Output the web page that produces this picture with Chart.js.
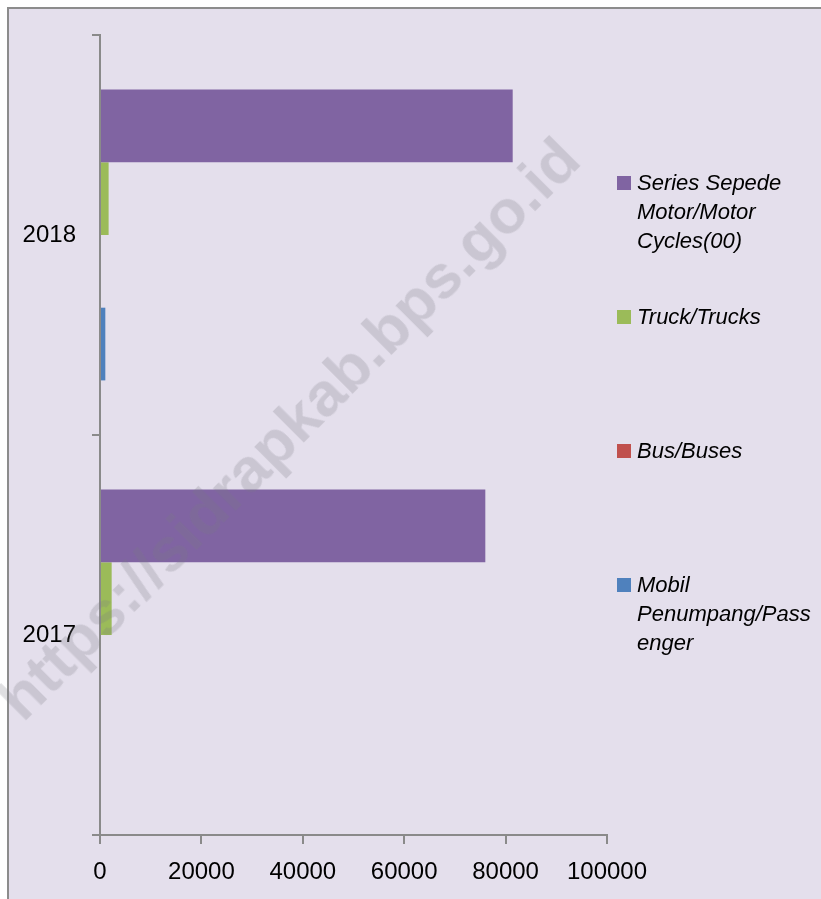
<!DOCTYPE html>
<html>
<head>
<meta charset="utf-8">
<script src="https://cdn.jsdelivr.net/npm/chart.js@4.4.1/dist/chart.umd.min.js"></script>
<style>
    html, body { margin: 0; padding: 0; background: #ffffff; overflow: hidden; }
    #frame {
        position: absolute; left: 7px; top: 7px; width: 840px; height: 920px;
        background: #E4DFEC; border: 2px solid #8C8C8C; box-sizing: border-box;
    }
    #wrap { position: absolute; left: 0; top: 0; width: 821px; height: 899px; }
    #legend {
        position: absolute; left: 0; top: 0;
        font-family: "Liberation Sans", Arial, sans-serif; font-style: italic;
        font-size: 22px; line-height: 29px; color: #000;
    }
    .item { position: absolute; left: 617px; width: 200px; }
    .box { position: absolute; left: 0; top: 8px; width: 14px; height: 14px; }
    .txt { position: absolute; left: 20px; width: 178px; overflow-wrap: anywhere; }
    #watermark {
        position: absolute; left: 288px; top: 428px;
        transform: translate(-50%, -50%) rotate(-45deg);
        font-family: "Liberation Sans", Arial, sans-serif; font-weight: bold;
        font-size: 62px; color: rgba(120, 120, 130, 0.24); white-space: nowrap;
        pointer-events: none;
    }
</style>
</head>
<body>
<div id="frame"></div>
<div id="wrap"><canvas id="canvasVehicles" width="821" height="899"></canvas></div>
<div id="legend"></div>
<div id="watermark">https://sidrapkab.bps.go.id</div>
<script>
"use strict";
// years, bottom to top
var years = ['2017', '2018'];
var seriesNames = ['Series Sepede Motor/Motor Cycles(00)', 'Truck/Trucks', 'Bus/Buses', 'Mobil Penumpang/Passenger'];
var motorCycles = [76000, 81400];
var trucks = [2300, 1700];
var buses = [0, 0];
var passengerCars = [0, 1050];
var xTicks = [0, 20000, 40000, 60000, 80000, 100000];
var colors = ['#8064A2', '#9BBB59', '#C0504D', '#4F81BD'];

var axisColor = '#8A8A8A';
var tickFont = { family: '"Liberation Sans", Arial, sans-serif', size: 24 };

function BuildDatasets() {
    var values = [motorCycles, trucks, buses, passengerCars];
    var datasets = [];
    for (var i = 0; i < values.length; i++) {
        datasets.push({
            label: seriesNames[i],
            data: values[i],
            backgroundColor: colors[i],
            borderWidth: 0,
            categoryPercentage: 0.727,
            barPercentage: 1.0
        });
    }
    return datasets;
}

function BuildLegend(datasets) {
    var legend = document.getElementById('legend');
    for (var i = 0; i < datasets.length; i++) {
        var item = document.createElement('div');
        item.className = 'item';
        item.style.top = (168 + i * 134) + 'px';
        var box = document.createElement('div');
        box.className = 'box';
        box.style.background = datasets[i].backgroundColor;
        var txt = document.createElement('div');
        txt.className = 'txt';
        txt.textContent = datasets[i].label;
        item.appendChild(box);
        item.appendChild(txt);
        legend.appendChild(item);
    }
}

var datasets = BuildDatasets();
BuildLegend(datasets);

const context = document.getElementById('canvasVehicles');
const myChart = new Chart(context, {
    type: 'bar',
    data: {
        labels: years,
        datasets: datasets
    },
    options: {
        indexAxis: 'y',
        responsive: false,
        animation: false,
        layout: { padding: { left: 0, top: 35, right: 214, bottom: 0 } },
        plugins: {
            legend: { display: false },
            tooltip: { enabled: false }
        },
        scales: {
            x: {
                min: 0,
                max: 100000,
                afterBuildTicks: function (scale) {
                    scale.ticks = xTicks.map(function (v) { return { value: v }; });
                },
                afterFit: function (scale) { scale.height = 64; },
                grid: { drawOnChartArea: false, color: axisColor, tickLength: 9, lineWidth: 2 },
                border: { color: axisColor, width: 2 },
                ticks: { color: '#000', font: tickFont, padding: 14, maxRotation: 0,
                    callback: function (v) { return String(v); } }
            },
            y: {
                reverse: true,
                afterFit: function (scale) { scale.width = 100; },
                grid: { drawOnChartArea: false, offset: true, color: axisColor, tickLength: 8, lineWidth: 2 },
                border: { color: axisColor, width: 2 },
                ticks: { color: '#000', font: tickFont, padding: 16 }
            }
        }
    }
});
</script>
</body>
</html>
